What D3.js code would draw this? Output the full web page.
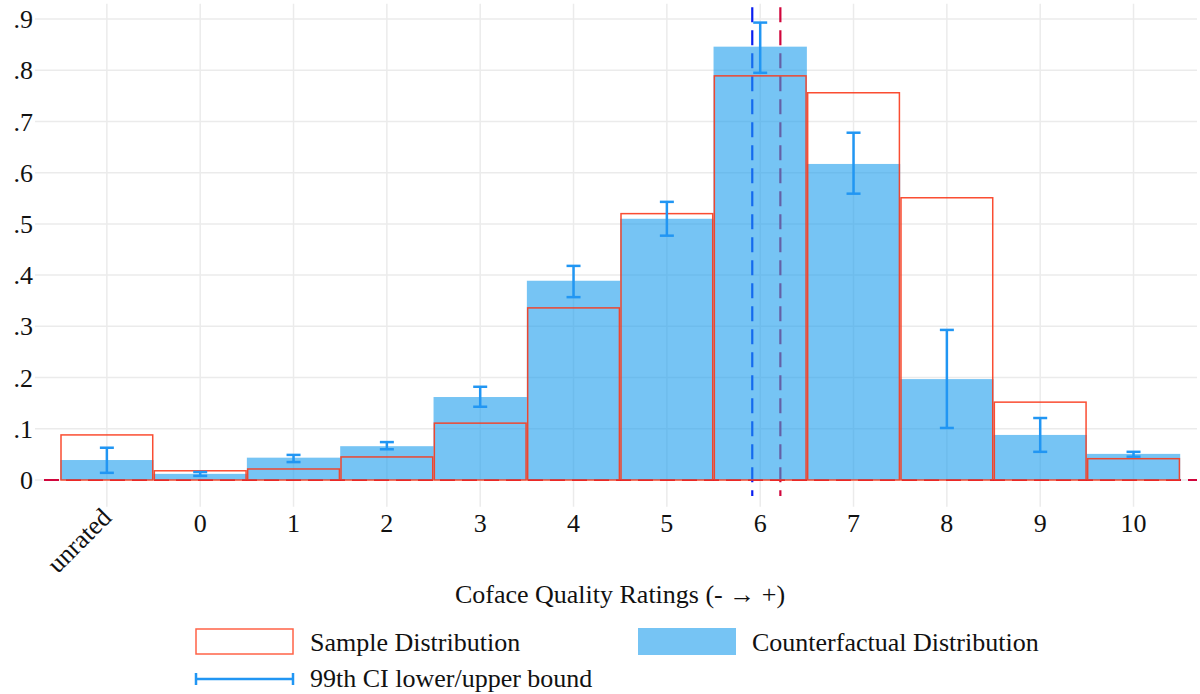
<!DOCTYPE html>
<html>
<head>
<meta charset="utf-8">
<script src="https://cdn.jsdelivr.net/npm/d3@7"></script>
<style>
  body { margin: 0; background: #fff; }
  text { font-family: "Liberation Serif", "Times New Roman", serif; fill: #111; }
</style>
</head>
<body>
<script>
// categories: unrated sits at position -1
const categories = ["unrated", "0", "1", "2", "3", "4", "5", "6", "7", "8", "9", "10"];
const positions = [-1, 0, 1, 2, 3, 4, 5, 6, 7, 8, 9, 10];
const sample = [0.088, 0.018, 0.0215, 0.045, 0.111, 0.336, 0.520, 0.789, 0.756, 0.551, 0.152, 0.0416];
const counterfactual = [0.039, 0.012, 0.0436, 0.066, 0.162, 0.389, 0.510, 0.846, 0.617, 0.197, 0.088, 0.051];
const ciLow = [0.014, 0.008, 0.035, 0.060, 0.143, 0.357, 0.477, 0.795, 0.559, 0.1016, 0.055, 0.0455];
const ciHigh = [0.063, 0.0156, 0.049, 0.074, 0.182, 0.418, 0.543, 0.893, 0.678, 0.293, 0.121, 0.055];
const yTicks = [0, 0.1, 0.2, 0.3, 0.4, 0.5, 0.6, 0.7, 0.8, 0.9];
const meanCounterfactual = 5.915;
const meanSample = 6.216;

const width = 1200, height = 694;
const fs = 26;

const x = d3.scaleLinear().domain([-1.77, 10.68]).range([35, 1197]);
const y = d3.scaleLinear().domain([0, 0.9]).range([480, 19]);
const panelTop = y(0.93), panelBottom = y(-0.052);

const svg = d3.select("body").append("svg")
    .attr("width", width)
    .attr("height", height);

const blue = "#1b9ded", red = "#fa3a1c", crimson = "#d1063c";

// grid
const grid = svg.append("g").attr("stroke", "#ebebeb").attr("stroke-width", 1.5);
grid.selectAll(".hgrid")
  .data(yTicks)
  .enter().append("line")
    .attr("x1", x.range()[0]).attr("x2", x.range()[1])
    .attr("y1", d => y(d)).attr("y2", d => y(d));
grid.selectAll(".vgrid")
  .data(positions)
  .enter().append("line")
    .attr("x1", d => x(d)).attr("x2", d => x(d))
    .attr("y1", panelTop).attr("y2", panelBottom);

// zero line
svg.append("line")
    .attr("x1", 44).attr("x2", x.range()[1])
    .attr("y1", y(0)).attr("y2", y(0))
    .attr("stroke", crimson).attr("stroke-width", 2.2)
    .attr("stroke-dasharray", "15,7");

// mean lines
svg.append("line")
    .attr("x1", x(meanCounterfactual)).attr("x2", x(meanCounterfactual))
    .attr("y1", y(0.923)).attr("y2", y(-0.031))
    .attr("stroke", "#0a1ef0").attr("stroke-width", 2.2)
    .attr("stroke-dasharray", "15,8");
svg.append("line")
    .attr("x1", x(meanSample)).attr("x2", x(meanSample))
    .attr("y1", y(0.923)).attr("y2", y(-0.031))
    .attr("stroke", crimson).attr("stroke-width", 2.2)
    .attr("stroke-dasharray", "15,8");

const bw = x(0.5) - x(-0.5);

// counterfactual bars
svg.selectAll(".cf")
  .data(counterfactual)
  .enter().append("rect")
    .attr("x", (d, i) => x(positions[i] - 0.5))
    .attr("width", bw)
    .attr("y", d => y(d))
    .attr("height", d => y(0) - y(d))
    .attr("fill", blue)
    .attr("fill-opacity", 0.6);

// sample bars (outline)
svg.selectAll(".sample")
  .data(sample)
  .enter().append("rect")
    .attr("x", (d, i) => x(positions[i] - 0.5) + 0.8)
    .attr("width", bw - 1.6)
    .attr("y", d => y(d))
    .attr("height", d => y(0) - y(d))
    .attr("fill", "none")
    .attr("stroke", red)
    .attr("stroke-opacity", 0.9)
    .attr("stroke-width", 1.5);

// error bars
const err = svg.append("g").attr("stroke", "#2196f3").attr("stroke-width", 2.5);
positions.forEach((p, i) => {
  const cx = x(p);
  err.append("line").attr("x1", cx).attr("x2", cx).attr("y1", y(ciLow[i])).attr("y2", y(ciHigh[i]));
  err.append("line").attr("x1", cx - 7).attr("x2", cx + 7).attr("y1", y(ciLow[i])).attr("y2", y(ciLow[i]));
  err.append("line").attr("x1", cx - 7).attr("x2", cx + 7).attr("y1", y(ciHigh[i])).attr("y2", y(ciHigh[i]));
});

// y tick labels
svg.selectAll(".ylab")
  .data(yTicks)
  .enter().append("text")
    .attr("x", 33)
    .attr("y", d => y(d))
    .attr("dy", "0.35em")
    .attr("text-anchor", "end")
    .attr("font-size", fs)
    .text(d => d === 0 ? "0" : d3.format(".1f")(d).replace(/^0/, ""));

// x tick labels
svg.selectAll(".xlab")
  .data(categories)
  .enter().append("text")
    .attr("font-size", fs)
    .attr("text-anchor", d => d === "unrated" ? "end" : "middle")
    .attr("transform", (d, i) => d === "unrated"
        ? `translate(${x(positions[i]) + 6},${519}) rotate(-45)`
        : `translate(${x(positions[i])},${532})`)
    .text(d => d);

// axis title
svg.append("text")
    .attr("x", 620)
    .attr("y", 603)
    .attr("text-anchor", "middle")
    .attr("font-size", fs)
    .text("Coface Quality Ratings (- \u2192 +)");

// legend
const lg = svg.append("g");
lg.append("rect").attr("x", 196).attr("y", 629).attr("width", 97).attr("height", 25)
  .attr("fill", "none").attr("stroke", "#ff6347").attr("stroke-width", 1.5);
lg.append("text").attr("x", 310).attr("y", 651).attr("font-size", fs).text("Sample Distribution");
lg.append("rect").attr("x", 638).attr("y", 628).attr("width", 98).attr("height", 27)
  .attr("fill", blue).attr("fill-opacity", 0.6);
lg.append("text").attr("x", 752).attr("y", 651).attr("font-size", fs).text("Counterfactual Distribution");
const le = lg.append("g").attr("stroke", "#2196f3").attr("stroke-width", 2.5);
le.append("line").attr("x1", 196).attr("x2", 293).attr("y1", 679).attr("y2", 679);
le.append("line").attr("x1", 196).attr("x2", 196).attr("y1", 673).attr("y2", 685);
le.append("line").attr("x1", 293).attr("x2", 293).attr("y1", 673).attr("y2", 685);
lg.append("text").attr("x", 310).attr("y", 687).attr("font-size", fs).text("99th CI lower/upper bound");
</script>
</body>
</html>
